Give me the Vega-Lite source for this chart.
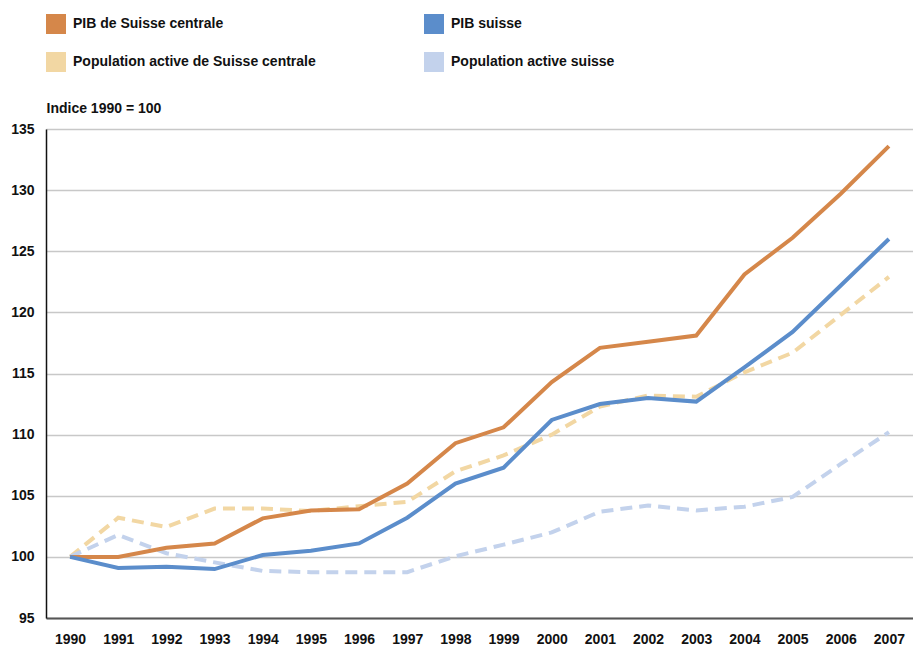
{
  "$schema": "https://vega.github.io/schema/vega-lite/v6.json",
  "width": 867,
  "height": 489,
  "autosize": {"type": "none"},
  "padding": {"left": 46, "top": 129, "right": 0, "bottom": 28},
  "background": "white",
  "config": {
    "view": {"stroke": null},
    "font": "Liberation Sans",
    "axis": {"labelFontSize": 14, "labelFontWeight": "bold", "labelColor": "#111111"}
  },
  "data": {
    "values": [
      {"year": 1990, "series": "PIB de Suisse centrale", "value": 100},
      {"year": 1991, "series": "PIB de Suisse centrale", "value": 100.0},
      {"year": 1992, "series": "PIB de Suisse centrale", "value": 100.75},
      {"year": 1993, "series": "PIB de Suisse centrale", "value": 101.1},
      {"year": 1994, "series": "PIB de Suisse centrale", "value": 103.15},
      {"year": 1995, "series": "PIB de Suisse centrale", "value": 103.8},
      {"year": 1996, "series": "PIB de Suisse centrale", "value": 103.9},
      {"year": 1997, "series": "PIB de Suisse centrale", "value": 106.0},
      {"year": 1998, "series": "PIB de Suisse centrale", "value": 109.3},
      {"year": 1999, "series": "PIB de Suisse centrale", "value": 110.6},
      {"year": 2000, "series": "PIB de Suisse centrale", "value": 114.3},
      {"year": 2001, "series": "PIB de Suisse centrale", "value": 117.1},
      {"year": 2002, "series": "PIB de Suisse centrale", "value": 117.6},
      {"year": 2003, "series": "PIB de Suisse centrale", "value": 118.1},
      {"year": 2004, "series": "PIB de Suisse centrale", "value": 123.1},
      {"year": 2005, "series": "PIB de Suisse centrale", "value": 126.1},
      {"year": 2006, "series": "PIB de Suisse centrale", "value": 129.7},
      {"year": 2007, "series": "PIB de Suisse centrale", "value": 133.6},
      {"year": 1990, "series": "PIB suisse", "value": 100},
      {"year": 1991, "series": "PIB suisse", "value": 99.1},
      {"year": 1992, "series": "PIB suisse", "value": 99.2},
      {"year": 1993, "series": "PIB suisse", "value": 99.0},
      {"year": 1994, "series": "PIB suisse", "value": 100.15},
      {"year": 1995, "series": "PIB suisse", "value": 100.5},
      {"year": 1996, "series": "PIB suisse", "value": 101.1},
      {"year": 1997, "series": "PIB suisse", "value": 103.2},
      {"year": 1998, "series": "PIB suisse", "value": 106.0},
      {"year": 1999, "series": "PIB suisse", "value": 107.3},
      {"year": 2000, "series": "PIB suisse", "value": 111.2},
      {"year": 2001, "series": "PIB suisse", "value": 112.5},
      {"year": 2002, "series": "PIB suisse", "value": 113.0},
      {"year": 2003, "series": "PIB suisse", "value": 112.7},
      {"year": 2004, "series": "PIB suisse", "value": 115.5},
      {"year": 2005, "series": "PIB suisse", "value": 118.4},
      {"year": 2006, "series": "PIB suisse", "value": 122.2},
      {"year": 2007, "series": "PIB suisse", "value": 126.0},
      {"year": 1990, "series": "Population active de Suisse centrale", "value": 100},
      {"year": 1991, "series": "Population active de Suisse centrale", "value": 103.2},
      {"year": 1992, "series": "Population active de Suisse centrale", "value": 102.45},
      {"year": 1993, "series": "Population active de Suisse centrale", "value": 103.95},
      {"year": 1994, "series": "Population active de Suisse centrale", "value": 103.95},
      {"year": 1995, "series": "Population active de Suisse centrale", "value": 103.75},
      {"year": 1996, "series": "Population active de Suisse centrale", "value": 104.15},
      {"year": 1997, "series": "Population active de Suisse centrale", "value": 104.5},
      {"year": 1998, "series": "Population active de Suisse centrale", "value": 107.0},
      {"year": 1999, "series": "Population active de Suisse centrale", "value": 108.3},
      {"year": 2000, "series": "Population active de Suisse centrale", "value": 110.0},
      {"year": 2001, "series": "Population active de Suisse centrale", "value": 112.3},
      {"year": 2002, "series": "Population active de Suisse centrale", "value": 113.2},
      {"year": 2003, "series": "Population active de Suisse centrale", "value": 113.1},
      {"year": 2004, "series": "Population active de Suisse centrale", "value": 115.1},
      {"year": 2005, "series": "Population active de Suisse centrale", "value": 116.7},
      {"year": 2006, "series": "Population active de Suisse centrale", "value": 119.8},
      {"year": 2007, "series": "Population active de Suisse centrale", "value": 122.9},
      {"year": 1990, "series": "Population active suisse", "value": 100},
      {"year": 1991, "series": "Population active suisse", "value": 101.8},
      {"year": 1992, "series": "Population active suisse", "value": 100.3},
      {"year": 1993, "series": "Population active suisse", "value": 99.55},
      {"year": 1994, "series": "Population active suisse", "value": 98.85},
      {"year": 1995, "series": "Population active suisse", "value": 98.75},
      {"year": 1996, "series": "Population active suisse", "value": 98.75},
      {"year": 1997, "series": "Population active suisse", "value": 98.75},
      {"year": 1998, "series": "Population active suisse", "value": 100.05},
      {"year": 1999, "series": "Population active suisse", "value": 101.0},
      {"year": 2000, "series": "Population active suisse", "value": 102.0},
      {"year": 2001, "series": "Population active suisse", "value": 103.7},
      {"year": 2002, "series": "Population active suisse", "value": 104.2},
      {"year": 2003, "series": "Population active suisse", "value": 103.8},
      {"year": 2004, "series": "Population active suisse", "value": 104.1},
      {"year": 2005, "series": "Population active suisse", "value": 104.9},
      {"year": 2006, "series": "Population active suisse", "value": 107.6},
      {"year": 2007, "series": "Population active suisse", "value": 110.2}
    ]
  },
  "encoding": {
    "x": {
      "field": "year",
      "type": "ordinal",
      "scale": {"type": "point", "padding": 0.5},
      "axis": {
        "title": null,
        "labelAngle": 0,
        "ticks": false,
        "labelPadding": 14,
        "domainColor": "#555555",
        "domainWidth": 2,
        "grid": false
      }
    },
    "y": {
      "field": "value",
      "type": "quantitative",
      "scale": {"domain": [95, 135], "nice": false, "zero": false},
      "axis": {
        "title": "Indice 1990 = 100",
        "titleAngle": 0,
        "titleAlign": "left",
        "titleBaseline": "middle",
        "titleX": 0,
        "titleY": -21,
        "titleFontSize": 14,
        "titleFontWeight": "bold",
        "titleColor": "#111111",
        "values": [95, 100, 105, 110, 115, 120, 125, 130, 135],
        "ticks": false,
        "labelPadding": 12,
        "domainColor": "#111111",
        "domainWidth": 1.5,
        "grid": true,
        "gridColor": "#c8c8c8",
        "gridWidth": 1.5
      }
    },
    "color": {
      "field": "series",
      "type": "nominal",
      "scale": {
        "domain": ["PIB de Suisse centrale", "PIB suisse", "Population active de Suisse centrale", "Population active suisse"],
        "range": ["#d5874a", "#5b8dcb", "#f2d7a3", "#c3d2ec"]
      },
      "legend": {
        "title": null,
        "orient": "none",
        "legendX": 0,
        "legendY": -115,
        "direction": "horizontal",
        "columns": 2,
        "columnPadding": 108,
        "rowPadding": 18,
        "symbolType": "square",
        "symbolSize": 400,
        "symbolStrokeWidth": 0,
        "labelFontSize": 14,
        "labelFontWeight": "bold",
        "labelColor": "#111111",
        "labelOffset": 7,
        "labelLimit": 400,
        "encode": {
          "symbols": {
            "update": {
              "fill": {"scale": "color", "field": "value"},
              "stroke": {"value": "transparent"},
              "opacity": {"value": 1}
            }
          }
        }
      }
    }
  },
  "layer": [
    {
      "transform": [{"filter": "indexof(datum.series, 'Population') === 0"}],
      "mark": {"type": "line", "strokeWidth": 4, "strokeDash": [12, 7]}
    },
    {
      "transform": [{"filter": "indexof(datum.series, 'PIB') === 0"}],
      "mark": {"type": "line", "strokeWidth": 4}
    }
  ]
}
